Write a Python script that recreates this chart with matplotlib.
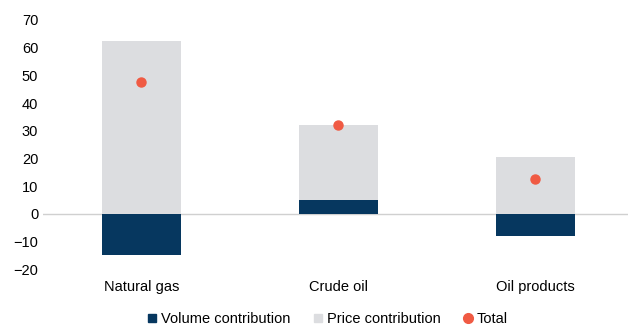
import numpy as np
import matplotlib.pyplot as plt
from matplotlib.lines import Line2D

plt.rcParams['font.family'] = ['Liberation Sans', 'DejaVu Sans']

categories = ['Natural gas', 'Crude oil', 'Oil products']
volume = [-15.0, 5.1, -7.9]
price = [62.4, 27.0, 20.6]
total = [47.6, 32.1, 12.7]

navy = '#06375f'
grey = '#dcdde0'
red = '#f05a43'

fig = plt.figure(figsize=(6.28, 3.27), dpi=100)
ax = fig.add_axes([0.0685, 0.177, 0.9315, 0.762])

x = np.arange(len(categories))
w = 0.4
vol = np.array(volume)
# price sits on top of a positive volume bar, otherwise starts at zero
price_base = np.where(vol > 0, vol, 0)

ax.bar(x, vol, w, color=navy, zorder=2)
ax.bar(x, price, w, bottom=price_base, color=grey, zorder=2)
ax.plot(x, total, 'o', color=red, markersize=6.5, zorder=3)

ax.axhline(0, color='#d0d0d0', lw=1.0, zorder=1)

ax.set_xlim(-0.5, 2.47)
ax.set_ylim(-20, 70)
ax.set_yticks(range(-20, 71, 10))
ax.set_xticks(x)
ax.set_xticklabels(categories)
ax.tick_params(axis='both', length=0, labelsize=10.5, colors='black')
ax.tick_params(axis='x', pad=8)
for s in ax.spines.values():
    s.set_visible(False)

handles = [
    Line2D([], [], marker='s', ls='', color=navy, markersize=6),
    Line2D([], [], marker='s', ls='', color=grey, markersize=6),
    Line2D([], [], marker='o', ls='', color=red, markersize=7),
]
labels = ['Volume contribution', 'Price contribution', 'Total']
fig.legend(handles, labels, loc='center', bbox_to_anchor=(0.52, 0.025), ncol=3,
           frameon=False, fontsize=10.5, handletextpad=0.1, columnspacing=1.4,
           handlelength=1.0)

fig.savefig('out.png', dpi=100)
